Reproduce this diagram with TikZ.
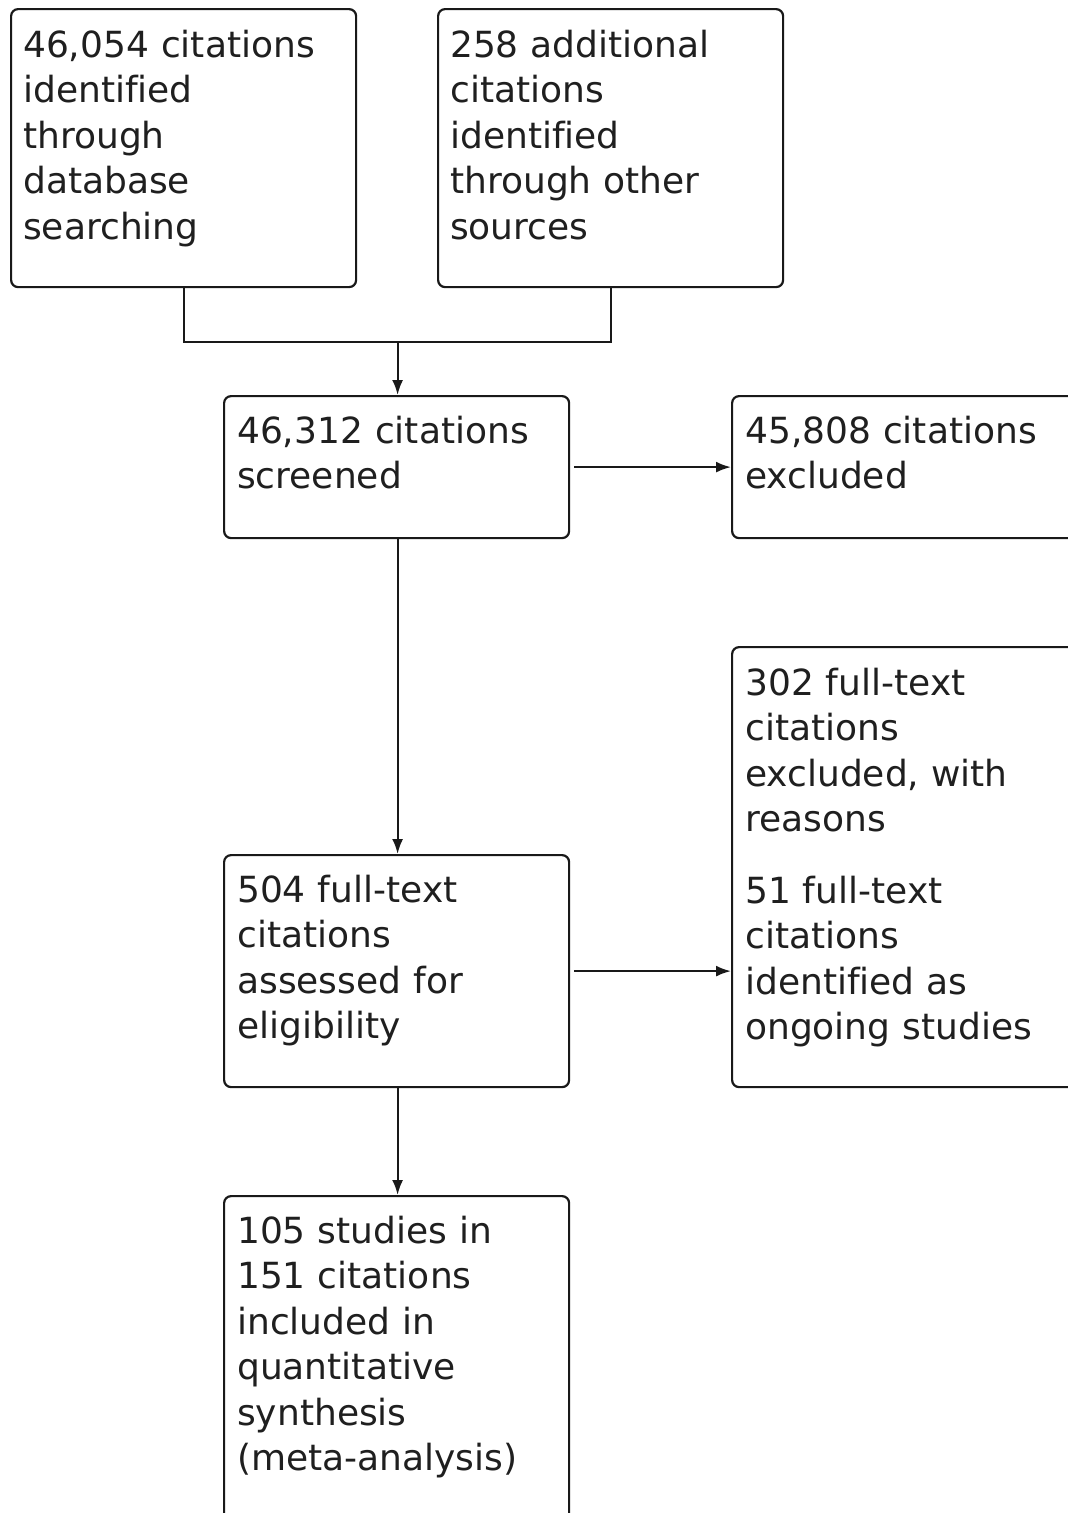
\documentclass[tikz,border=0pt]{standalone}
\usepackage{fontspec}
\setmainfont[Ligatures=NoCommon]{DejaVu Sans}
\usetikzlibrary{arrows.meta,calc}
\begin{document}
\begin{tikzpicture}[x=1pt,y=-1pt,
  box/.style={draw=black!90,line width=2.2pt,rounded corners=7pt,inner sep=0pt,anchor=north west},
  txt/.style={anchor=base west,inner sep=0pt,text width=330pt,align=left,
    font=\fontsize{36}{45.5}\selectfont,text=black!88},
  conn/.style={draw=black!90,line width=2.2pt},
  arr/.style={conn,-{Latex[length=15pt,width=11pt]}}]
\clip (0,0) rectangle (1068,1513);
\fill[white] (0,0) rectangle (1068,1513);
% boxes
\node[box,minimum width=345pt,minimum height=278pt] (b1) at (10,8) {};
\node[box,minimum width=345pt,minimum height=278pt] (b2) at (437,8) {};
\node[box,minimum width=345pt,minimum height=142pt] (b3) at (223,395) {};
\node[box,minimum width=360pt,minimum height=142pt] (b4) at (731,395) {};
\node[box,minimum width=360pt,minimum height=440pt] (b5) at (731,646) {};
\node[box,minimum width=345pt,minimum height=232pt] (b6) at (223,854) {};
\node[box,minimum width=345pt,minimum height=340pt] (b7) at (223,1195) {};
% texts
\node[txt] (t1) at (23,57) {46,054 citations\\identified\\through\\database\\searching};
\node[txt] (t2) at (450,57) {258 additional\\citations\\identified\\through other\\sources};
\node[txt] (t3) at (237,443) {46,312 citations\\screened};
\node[txt] (t4) at (745,443) {45,808 citations\\excluded};
\node[txt] (t5) at (745,695) {302 full-text\\citations\\excluded, with\\reasons\\[26pt]51 full-text\\citations\\identified as\\ongoing studies};
\node[txt] (t6) at (237,902) {504 full-text\\citations\\assessed for\\eligibility};
\node[txt] (t7) at (237,1243) {105 studies in\\151 citations\\included in\\quantitative\\synthesis\\(meta-analysis)};
% connectors
\coordinate (j) at ($(b3.north)+(1,-53)$);
\draw[conn] (b1.south) |- (j) -| (b2.south);
\draw[arr] (j) -- ($(b3.north)+(1,0)$);
\draw[arr] ($(b3.east)+(4,0)$) -- (b4.west);
\draw[arr] ($(b3.south)+(1,0)$) -- ($(b6.north)+(1,0)$);
\draw[arr] ($(b6.east)+(4,0)$) -- ($(b5.west)+(0,104)$);
\draw[arr] ($(b6.south)+(1,0)$) -- ($(b7.north)+(1,0)$);
\end{tikzpicture}
\end{document}
